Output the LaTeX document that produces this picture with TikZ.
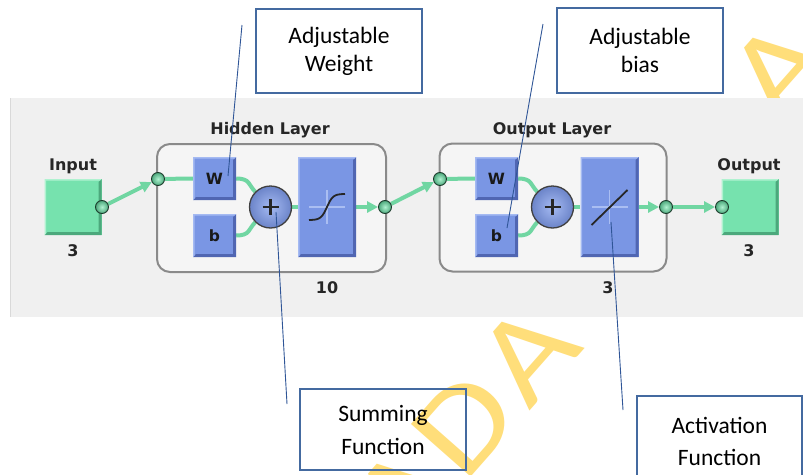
\documentclass[tikz,border=0pt]{standalone}
\usepackage{fontspec}
\setmainfont{Carlito}
\newfontfamily\nnfont{DejaVu Sans}
\usetikzlibrary{arrows.meta}
\pgfdeclarelayer{back}
\pgfdeclarelayer{mid}
\pgfsetlayers{back,mid,main}

\definecolor{gbase}{RGB}{118,226,174}
\definecolor{gdark}{RGB}{76,168,124}
\definecolor{glight}{RGB}{175,242,208}
\definecolor{bbase}{RGB}{122,150,228}
\definecolor{bdark}{RGB}{80,102,178}
\definecolor{blight}{RGB}{165,186,242}
\definecolor{wirec}{RGB}{112,214,162}
\definecolor{panelc}{RGB}{240,240,240}
\definecolor{layerfill}{RGB}{245,245,245}
\definecolor{layerline}{RGB}{138,138,138}
\definecolor{leadc}{RGB}{47,85,151}
\definecolor{calloutc}{RGB}{68,106,160}
\definecolor{wmark}{RGB}{255,222,122}
\definecolor{crossc}{RGB}{170,190,242}

% bevelled face: darker lower-right rim, lighter upper-left rim
\newcommand\bevelfill[2]{%
  \fill[#1] (path picture bounding box.south west) -- (path picture bounding box.south east)
    -- (path picture bounding box.north east) -- ([shift={(-3pt,-3pt)}]path picture bounding box.north east)
    -- ([shift={(-3pt,3pt)}]path picture bounding box.south east) -- ([shift={(3pt,3pt)}]path picture bounding box.south west) -- cycle;
  \fill[#2] (path picture bounding box.north west) -- (path picture bounding box.north east)
    -- ([shift={(-1.5pt,-1.5pt)}]path picture bounding box.north east) -- ([shift={(1.5pt,-1.5pt)}]path picture bounding box.north west)
    -- ([shift={(1.5pt,1.5pt)}]path picture bounding box.south west) -- (path picture bounding box.south west) -- cycle;}

\begin{document}
\begin{tikzpicture}[x=1pt,y=-1pt,
  iobox/.style={rectangle, inner sep=0, minimum width=57, minimum height=56, fill=gbase, path picture={\bevelfill{gdark}{glight}}},
  wbbox/.style={rectangle, inner sep=0, minimum size=43, fill=bbase, path picture={\bevelfill{bdark}{blight}}, font=\nnfont\bfseries\fontsize{15.5}{15.5}\selectfont, text=black!90},
  tfbox/.style={rectangle, inner sep=0, minimum width=58, minimum height=100, fill=bbase, path picture={\bevelfill{bdark}{blight}}},
  sumnode/.style={circle, inner sep=0, minimum size=42, draw=black!75, line width=1.3, inner color=blight, outer color=bbase!88!black},
  dotnode/.style={circle, inner sep=0, minimum size=13, draw=black!65!gdark, line width=0.9, inner color=glight, outer color=gdark},
  layerbox/.style={rectangle, draw=layerline, line width=2, fill=layerfill, rounded corners=13},
  wire/.style={draw=wirec, line width=4},
  warrow/.style={wire, -{Triangle[length=11pt,width=11pt,fill=wirec]}},
  lab/.style={font=\nnfont\bfseries\fontsize{16}{16}\selectfont, text=black!85, anchor=base, inner sep=0},
  crossl/.style={draw=crossc, line width=1.2},
  curve/.style={draw=black!85, line width=1.8},
  callbox/.style={draw=calloutc, line width=1.2, align=center, inner sep=0},
  leader/.style={draw=leadc, line width=0.9},
  wm/.style={text=wmark, font=\fontsize{124}{124}\selectfont, rotate=48.6, xscale=1.18, anchor=base, inner sep=0}
]
\useasboundingbox (0,0) rectangle (803,474);

\begin{pgfonlayer}{back}
  \fill[white] (0,0) rectangle (803,474);
  % watermark letters
  \node[wm] (wm1) at (432,522) {A};
  \node[wm] (wm2) at (494,451) {D};
  \node[wm] (wm3) at (557,380) {A};
  \node[wm] (wm4) at (808,96) {A};
  % tool panel
  \fill[panelc] (10,98) rectangle (803,317);
  \draw[black!15, line width=1] (10.5,98) -- (10.5,317);
  % layer frames
  \node[layerbox, minimum width=229, minimum height=128] (hidden) at (271.5,208) {};
  \node[layerbox, minimum width=227, minimum height=128] (outlayer) at (553,207.5) {};
\end{pgfonlayer}

% input and output blocks
\node[iobox] (inp) at (73,207) {};
\node[iobox] (outp) at (750,207) {};

% hidden layer
\node[wbbox] (W1) at (214.5,178.5) {W};
\node[wbbox] (b1) at (214.5,235.5) {b};
\node[sumnode] (sum1) at (270.5,207) {};
\node[tfbox] (tf1) at (327,207) {};

% output layer
\node[wbbox] (W2) at (496.5,178.5) {W};
\node[wbbox] (b2) at (496.5,235.5) {b};
\node[sumnode] (sum2) at (552.5,207) {};
\node[tfbox] (tf2) at (609.5,207) {};

% plus signs
\foreach \s in {sum1,sum2}{
  \draw[line width=2.6, black!85] ([xshift=-8pt]\s.center) -- ([xshift=8pt]\s.center);
  \draw[line width=2.6, black!85] ([yshift=-8pt]\s.center) -- ([yshift=8pt]\s.center);
}

% transfer function icons
\foreach \t in {tf1,tf2}{
  \draw[crossl] ([xshift=-18pt]\t.center) -- ([xshift=18pt]\t.center);
  \draw[crossl] ([yshift=-17pt]\t.center) -- ([yshift=17pt]\t.center);
}
\draw[curve, shift={(tf1.center)}] plot[domain=-18:18, samples=41, smooth] (\x, {-13*tanh(\x/6)/tanh(3)});
\draw[curve] ([shift={(-18pt,-18pt)}]tf2.center) -- ([shift={(18pt,17pt)}]tf2.center);

% ports
\node[dotnode] (c0) at (102,207) {};
\node[dotnode] (c1) at (158,179) {};
\node[dotnode] (c2) at (385,207) {};
\node[dotnode] (c3) at (440,179) {};
\node[dotnode] (c4) at (666,207) {};
\node[dotnode] (c5) at (722,207) {};

% signal wires
\begin{pgfonlayer}{mid}
  \draw[warrow] (c0) -- (c1);
  \draw[wire] (c1) -- (W1.west);
  \draw[wire] (W1.east) .. controls +(14,0) and +(-7,-7) .. (sum1.135);
  \draw[wire] (b1.east) .. controls +(14,0) and +(-7,7) .. (sum1.225);
  \draw[wire] (sum1.east) -- (tf1.west);
  \draw[warrow] (tf1.east) -- (c2);
  \draw[warrow] (c2) -- (c3);
  \draw[wire] (c3) -- (W2.west);
  \draw[wire] (W2.east) .. controls +(14,0) and +(-7,-7) .. (sum2.135);
  \draw[wire] (b2.east) .. controls +(14,0) and +(-7,7) .. (sum2.225);
  \draw[wire] (sum2.east) -- (tf2.west);
  \draw[warrow] (tf2.east) -- (c4);
  \draw[warrow] (c4) -- (c5);
\end{pgfonlayer}

% labels
\node[lab] (linp) at (73,170) {Input};
\node[lab] (ninp) at (73,256) {3};
\node[lab] (lhid) at (270,134) {Hidden Layer};
\node[lab] (nhid) at (327,293) {10};
\node[lab] (lout) at (552,134) {Output Layer};
\node[lab] (nout) at (608,293) {3};
\node[lab] (loutp) at (749,170) {Output};
\node[lab] (noutp) at (749,256) {3};

% callouts
\node[callbox, minimum width=166, minimum height=84, font=\fontsize{23.5}{28}\selectfont] (cw) at (339,51) {Adjustable\\Weight};
\node[callbox, minimum width=166, minimum height=85, font=\fontsize{23.5}{28}\selectfont] (cb) at (640,50.5) {Adjustable\\bias};
\node[callbox, minimum width=166, minimum height=81, font=\fontsize{23.5}{33}\selectfont] (cs) at (383,429.5) {Summing\\Function};
\node[callbox, minimum width=165, minimum height=90, font=\fontsize{23.5}{32}\selectfont] (ca) at (719.5,441) {Activation\\Function};

% leader lines
\coordinate (lw1) at (242,25);   \coordinate (lw2) at (228,176);
\coordinate (lb1) at (543,24);   \coordinate (lb2) at (507,228);
\coordinate (ls1) at (276,212);  \coordinate (ls2) at (287,404);
\coordinate (la1) at (611,222);  \coordinate (la2) at (623,410);
\draw[leader] (lw1) -- (lw2);
\draw[leader] (lb1) -- (lb2);
\draw[leader] (ls1) -- (ls2);
\draw[leader] (la1) -- (la2);
\end{tikzpicture}
\end{document}
